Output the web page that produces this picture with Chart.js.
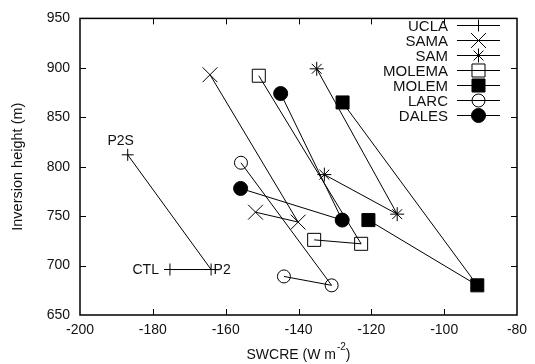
<!DOCTYPE html>
<html>
<head>
<meta charset="utf-8">
<script src="https://cdn.jsdelivr.net/npm/chart.js@4.4.1/dist/chart.umd.min.js"></script>
<style>
  html, body { margin: 0; padding: 0; background: #fff; }
  #wrap { width: 535px; height: 364px; }
</style>
</head>
<body>
<div id="wrap"><canvas id="swcreChart"></canvas></div>
<script>
// runs in order CTL, P2, P2S
const models = ["UCLA", "SAMA", "SAM", "MOLEMA", "MOLEM", "LARC", "DALES"];
const uclaX = [-175.3, -164.0, -186.9];
const uclaY = [696, 696, 812];
const samaX = [-151.8, -140.1, -164.3];
const samaY = [754, 744, 893];
const samX = [-132.9, -112.9, -135.0];
const samY = [792, 752, 899];
const molemaX = [-135.7, -122.8, -150.9];
const molemaY = [726, 722, 892];
const molemX = [-120.8, -90.9, -127.9];
const molemY = [746, 680, 865];
const larcX = [-144.0, -130.9, -155.8];
const larcY = [689, 680, 804];
const dalesX = [-155.9, -128.0, -144.9];
const dalesY = [778, 746, 874];
const runLabels = ["CTL", "P2", "P2S"];

const xTicks = [-200, -180, -160, -140, -120, -100, -80];
const yTicks = [650, 700, 750, 800, 850, 900, 950];

const FONT = "'Liberation Sans', Arial, Helvetica, sans-serif";
const INK = "#111";

const markers = {
    UCLA:   { style: "cross",    radius: 6,    fill: "rgba(0,0,0,0)" },
    SAMA:   { style: "crossRot", radius: 10.5, fill: "rgba(0,0,0,0)" },
    SAM:    { style: "star",     radius: 7,    fill: "rgba(0,0,0,0)" },
    MOLEMA: { style: "rect",     radius: 9.2,  fill: "rgba(0,0,0,0)" },
    MOLEM:  { style: "rect",     radius: 9.2,  fill: "#000" },
    LARC:   { style: "circle",   radius: 6.5,  fill: "rgba(0,0,0,0)" },
    DALES:  { style: "circle",   radius: 7,    fill: "#000" }
};

const xs = [uclaX, samaX, samX, molemaX, molemX, larcX, dalesX];
const ys = [uclaY, samaY, samY, molemaY, molemY, larcY, dalesY];

function pts(xArr, yArr) {
    return xArr.map((x, i) => ({ x: x, y: yArr[i] }));
}

const datasets = models.map((name, i) => ({
    label: name,
    data: pts(xs[i], ys[i]),
    showLine: true,
    borderColor: "#000",
    borderWidth: 1,
    pointStyle: markers[name].style,
    pointRadius: markers[name].radius,
    pointBorderColor: "#000",
    pointBorderWidth: 1,
    pointBackgroundColor: markers[name].fill
}));

const framePlugin = {
    id: "frame",
    afterDraw(chart) {
        const c = chart.ctx;
        const a = chart.chartArea;
        const sx = chart.scales.x;
        const sy = chart.scales.y;
        c.save();
        c.strokeStyle = "#000";
        c.lineWidth = 1;
        // inward ticks, mirrored on top and right
        const tl = 6;
        xTicks.slice(1, -1).forEach(v => {
            const px = Math.round(sx.getPixelForValue(v)) + 0.5;
            c.beginPath();
            c.moveTo(px, a.bottom); c.lineTo(px, a.bottom - tl);
            c.moveTo(px, a.top); c.lineTo(px, a.top + tl);
            c.stroke();
        });
        yTicks.slice(1, -1).forEach(v => {
            const py = Math.round(sy.getPixelForValue(v)) + 0.5;
            c.beginPath();
            c.moveTo(a.left, py); c.lineTo(a.left + tl, py);
            c.moveTo(a.right, py); c.lineTo(a.right - tl, py);
            c.stroke();
        });
        c.lineWidth = 1.5;
        c.strokeRect(a.left, a.top, a.right - a.left, a.bottom - a.top);

        c.fillStyle = INK;
        c.textBaseline = "alphabetic";

        // x title with superscript
        const main = "SWCRE (W m";
        const sup = "-2";
        const close = ")";
        c.font = "14px " + FONT;
        const w1 = c.measureText(main).width;
        const w3 = c.measureText(close).width;
        c.font = "10px " + FONT;
        const w2 = c.measureText(sup).width + 1;
        let tx = (a.left + a.right) / 2 - (w1 + w2 + w3) / 2;
        c.textAlign = "left";
        c.font = "14px " + FONT;
        c.fillText(main, tx, 359);
        c.font = "10px " + FONT;
        c.fillText(sup, tx + w1 + 1, 350);
        c.font = "14px " + FONT;
        c.fillText(close, tx + w1 + w2, 359);

        // y title
        c.save();
        c.translate(18, (a.top + a.bottom) / 2);
        c.rotate(-Math.PI / 2);
        c.textAlign = "center";
        c.textBaseline = "middle";
        c.font = "14.5px " + FONT;
        c.fillText("Inversion height (m)", 0, 0);
        c.restore();

        // run labels for UCLA
        c.font = "14px " + FONT;
        c.textBaseline = "middle";
        const px = uclaX.map(v => sx.getPixelForValue(v));
        const py = uclaY.map(v => sy.getPixelForValue(v));
        c.textAlign = "right";
        c.fillText(runLabels[0], px[0] - 11, py[0] + 1);
        c.textAlign = "left";
        c.fillText(runLabels[1], px[1] + 2.5, py[1] + 1);
        c.textAlign = "center";
        c.fillText(runLabels[2], px[2] - 7, py[2] - 13.5);

        // legend
        const h = Chart.helpers;
        models.forEach((name, i) => {
            const rowY = Math.round(24.5 + i * 15.1) + 0.5;
            c.fillStyle = INK;
            c.textAlign = "right";
            c.textBaseline = "middle";
            c.font = "15px " + FONT;
            c.fillText(name, 448, rowY + 1);
            c.strokeStyle = "#000";
            c.lineWidth = 1;
            c.beginPath();
            c.moveTo(457, rowY);
            c.lineTo(500, rowY);
            c.stroke();
            const m = markers[name];
            c.fillStyle = m.fill;
            h.drawPoint(c, { pointStyle: m.style, radius: m.radius, borderWidth: 1, rotation: 0 }, 478.5, rowY);
        });
        c.restore();
    }
};

new Chart(document.getElementById("swcreChart"), {
    type: "scatter",
    data: { datasets: datasets },
    options: {
        responsive: true,
        maintainAspectRatio: false,
        animation: false,
        layout: { padding: { top: 11, right: 18, left: 0, bottom: 0 } },
        plugins: {
            legend: { display: false },
            tooltip: { enabled: false }
        },
        scales: {
            x: {
                type: "linear",
                min: -200,
                max: -80,
                afterBuildTicks: s => { s.ticks = xTicks.map(v => ({ value: v })); },
                afterFit: s => { s.height = 49; },
                grid: { display: false, drawTicks: false },
                border: { display: false },
                ticks: {
                    padding: 7,
                    color: INK,
                    font: { family: FONT, size: 14 },
                    maxRotation: 0
                },
                title: { display: false }
            },
            y: {
                type: "linear",
                min: 650,
                max: 950,
                afterBuildTicks: s => { s.ticks = yTicks.map(v => ({ value: v })); },
                afterFit: s => { s.width = 80; },
                grid: { display: false, drawTicks: false },
                border: { display: false },
                ticks: {
                    padding: 10,
                    color: INK,
                    font: { family: FONT, size: 14 }
                },
                title: { display: false }
            }
        }
    },
    plugins: [framePlugin]
});
</script>
</body>
</html>
